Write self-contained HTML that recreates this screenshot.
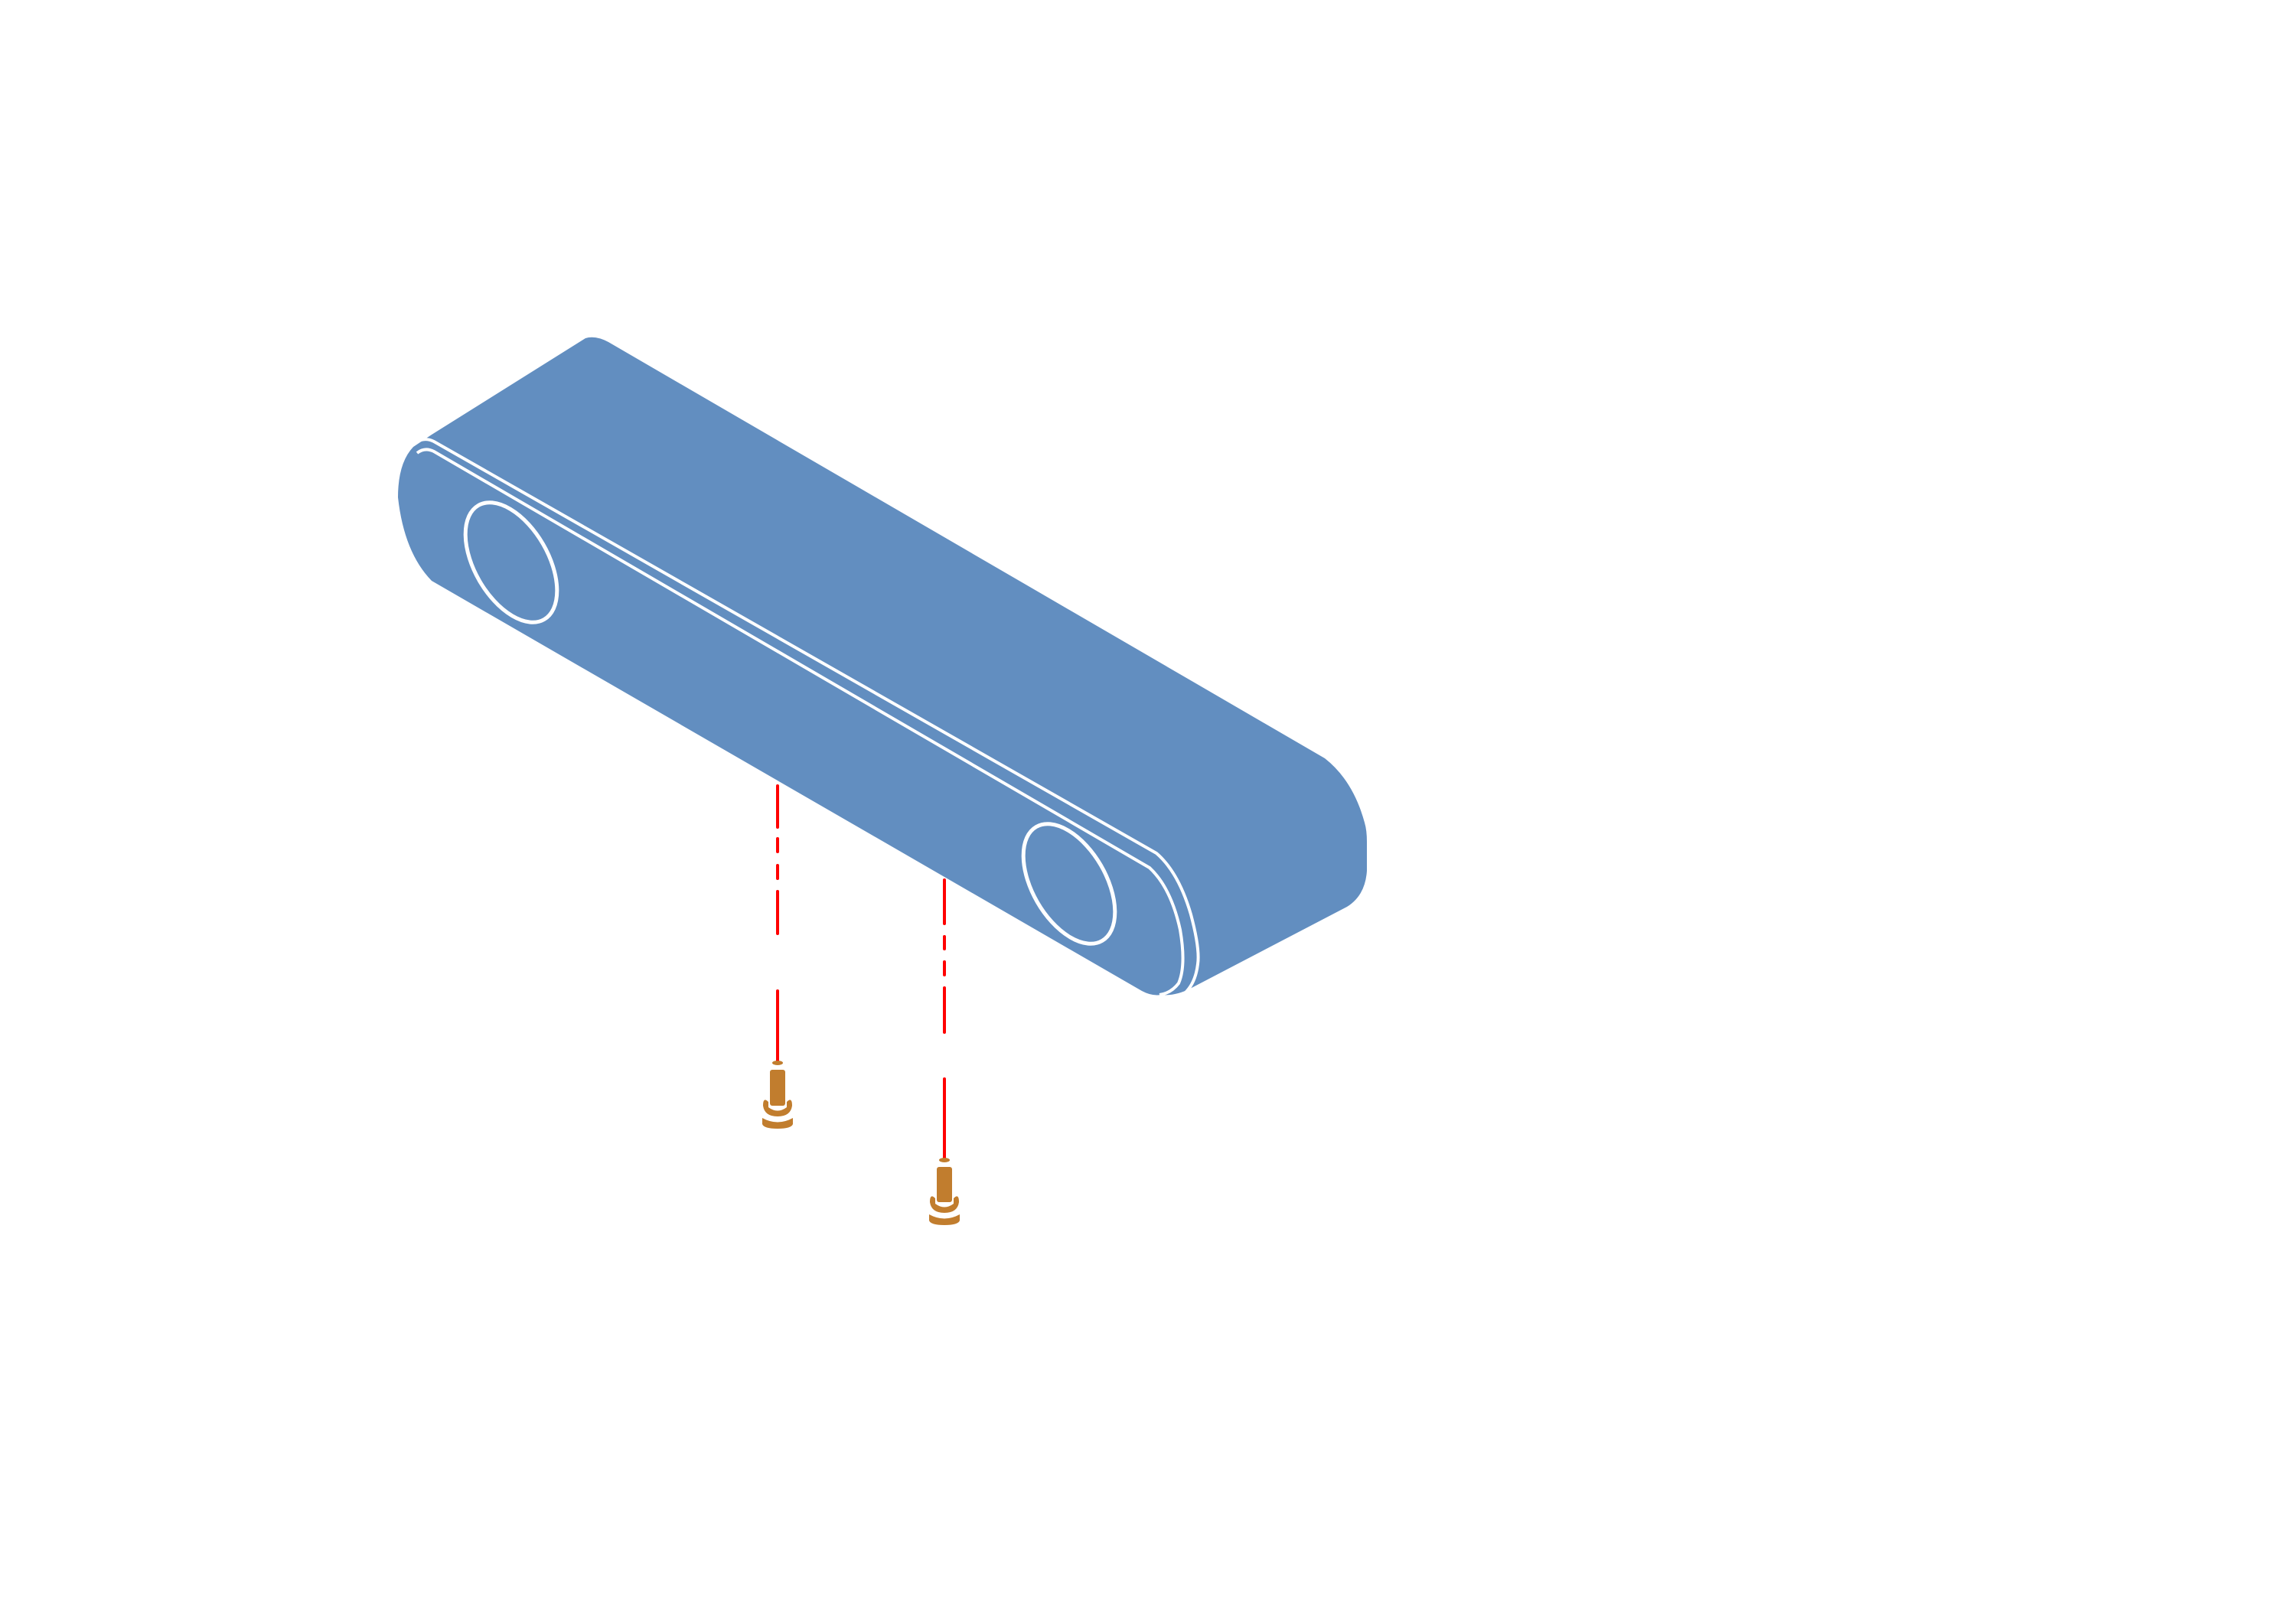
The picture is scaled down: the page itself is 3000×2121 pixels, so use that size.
<!DOCTYPE html>
<html><head><meta charset="utf-8"><style>html,body{margin:0;padding:0;background:#fff}svg{display:block}</style></head>
<body>
<svg width="3000" height="2121" viewBox="0 0 3000 2121" xmlns="http://www.w3.org/2000/svg">
<rect width="3000" height="2121" fill="#fff"/>
<g stroke="#ff0000" stroke-width="4" stroke-linecap="round" fill="none">
<line x1="1016" y1="1027" x2="1016" y2="1081"/>
<line x1="1016" y1="1096" x2="1016" y2="1113"/>
<line x1="1016" y1="1131" x2="1016" y2="1148"/>
<line x1="1016" y1="1165" x2="1016" y2="1220"/>
<line x1="1016" y1="1295" x2="1016" y2="1387"/>
<line x1="1234" y1="1150" x2="1234" y2="1207"/>
<line x1="1234" y1="1224" x2="1234" y2="1240"/>
<line x1="1234" y1="1257" x2="1234" y2="1274"/>
<line x1="1234" y1="1291" x2="1234" y2="1349"/>
<line x1="1234" y1="1410" x2="1234" y2="1513"/>
</g>
<path d="M765,442 Q778,438 795,447 L1731,991 Q1768,1020 1783,1075 Q1786,1085 1786,1100 L1786,1138 Q1784,1170 1760,1185 L1555,1292 Q1535,1302 1517,1300 Q1505,1302 1492,1295 L564,759 Q528,722 520,650 Q520,605 540,584 L564,568 Z" fill="#628ec0"/>
<g fill="none" stroke="#fff" stroke-width="4">
<path d="M541,580 Q553,570 567,577 L1511,1115 Q1540,1140 1556,1195 Q1568,1240 1565,1260 Q1562,1285 1548,1298"/>
<path d="M545,592 Q555,584 567,590 L1502,1134 Q1530,1160 1542,1215 Q1550,1262 1540,1285 Q1530,1298 1515,1300"/>
<ellipse cx="668" cy="735" rx="48" ry="86" transform="rotate(-30 668 735)" stroke-width="5"/>
<ellipse cx="1397" cy="1155" rx="48" ry="86" transform="rotate(-30 1397 1155)" stroke-width="5"/>
</g>
<g fill="#c17d2e">
<ellipse cx="1016" cy="1389" rx="7" ry="3"/>
<rect x="1006" y="1398" width="20" height="47" rx="3"/>
<path d="M997,1445 Q997,1433 1004,1440 L1004,1447 Q1016,1456 1028,1447 L1028,1440 Q1035,1433 1035,1445 Q1033,1459 1016,1459 Q999,1459 997,1445 Z"/>
<path d="M996,1461 Q1016,1472 1036,1461 L1036,1469 Q1034,1475 1016,1475 Q998,1475 996,1469 Z"/>
<ellipse cx="1234" cy="1516" rx="7" ry="3"/>
<rect x="1224" y="1525" width="20" height="46" rx="3"/>
<path d="M1215,1571 Q1215,1559 1222,1566 L1222,1573 Q1234,1582 1246,1573 L1246,1566 Q1253,1559 1253,1571 Q1251,1585 1234,1585 Q1217,1585 1215,1571 Z"/>
<path d="M1214,1587 Q1234,1598 1254,1587 L1254,1595 Q1252,1601 1234,1601 Q1216,1601 1214,1595 Z"/>
</g>
</svg>
</body></html>
